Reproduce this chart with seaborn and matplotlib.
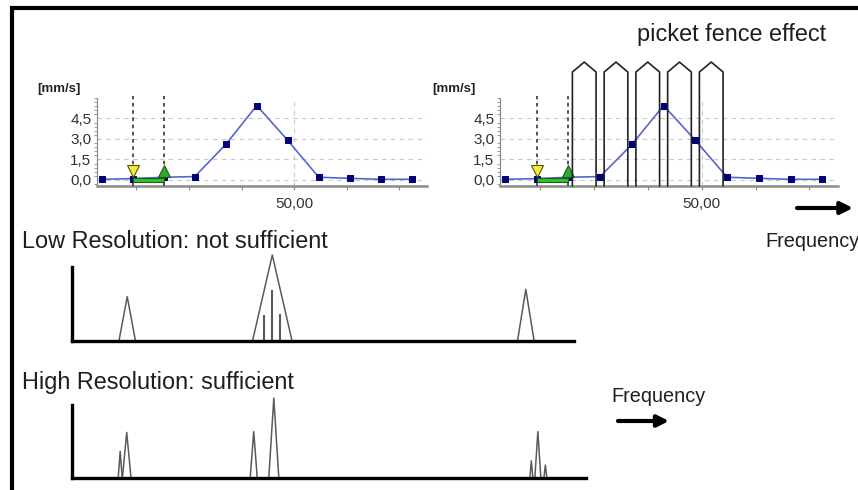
import matplotlib
matplotlib.use("Agg")
import matplotlib.pyplot as plt
from matplotlib.patches import Rectangle
from matplotlib.ticker import FixedLocator, MultipleLocator
import numpy as np
import pandas as pd
import seaborn as sns

# spectrum bins of the two small analyser plots (Hz, mm/s)
bin_freqs = [13.4, 19.3, 25.2, 31.1, 37.0, 42.9, 48.8, 54.7, 60.6, 66.5, 72.4]
bin_amps = [0.05, 0.1, 0.2, 0.25, 2.6, 5.45, 2.9, 0.2, 0.12, 0.05, 0.05]
y_ticks = [0.0, 1.5, 3.0, 4.5]
y_ticklabels = ["0,0", "1,5", "3,0", "4,5"]
x_major = [50.0]
x_major_labels = ["50,00"]
x_minor = [20, 30, 40, 60, 70]
cursor_idx = [1, 2]          # bins under the yellow / green cursors
picket_bins = [2, 3, 4, 5, 6]  # pickets sit between bin i and i+1

# sketch spectra, low resolution
low_centers = [11.0, 39.9, 90.4]
low_halfwidths = [1.65, 3.94, 1.66]
low_heights = [0.515, 1.0, 0.60]
low_lines_x = [38.2, 39.9, 41.5]
low_lines_h = [0.30, 0.59, 0.31]

# sketch spectra, high resolution
high_centers = [9.6, 10.9, 36.2, 40.2, 91.5, 92.8, 94.3]
high_halfwidths = [0.4, 0.86, 0.7, 1.0, 0.3, 0.6, 0.3]
high_heights = [0.31, 0.53, 0.54, 0.93, 0.2, 0.54, 0.15]

W, H = 858, 490
sns.set_theme(style="white")
plt.rcParams["font.family"] = ["Liberation Sans", "DejaVu Sans"]


def px_rect(l, t, r, b):
    return [l / W, 1 - b / H, (r - l) / W, (b - t) / H]


def peaks_frame(centers, halfwidths, heights):
    rows = []
    for i, (c, hw, h) in enumerate(zip(centers, halfwidths, heights)):
        for k, (x, y) in enumerate([(c - hw, 0), (c, h), (c + hw, 0)]):
            rows.append({"peak": i, "order": k, "f": x, "a": y})
    return pd.DataFrame(rows)


def analyser(ax, pickets=False):
    ymin, ymax = -0.44, 6.0
    ax.set_xlim(12.5, 75.3)
    ax.set_ylim(ymin, ymax)
    for s in ["top", "right"]:
        ax.spines[s].set_visible(False)
    ax.spines["left"].set_color("#8a8a8a")
    ax.spines["left"].set_linewidth(0.9)
    ax.spines["bottom"].set_color("#8a8a8a")
    ax.spines["bottom"].set_linewidth(1.8)
    ax.set_yticks(y_ticks)
    ax.set_yticklabels(y_ticklabels)
    ax.yaxis.set_minor_locator(MultipleLocator(0.3))
    ax.xaxis.set_major_locator(FixedLocator(x_major))
    ax.set_xticklabels(x_major_labels)
    ax.xaxis.set_minor_locator(FixedLocator(x_minor))
    ax.tick_params(axis="y", which="major", length=0, pad=4, labelsize=11, labelcolor="#333333")
    ax.tick_params(axis="y", which="minor", left=True, length=2, width=0.6, color="#8a8a8a")
    ax.tick_params(axis="x", which="both", bottom=True, length=3, width=0.8, color="#8a8a8a",
                   pad=5, labelsize=11, labelcolor="#333333")
    ax.grid(True, which="major", color="#c8c8c8", linestyle=(0, (4, 4)), linewidth=0.8)
    ax.set_facecolor("none")

    sns.lineplot(x=bin_freqs, y=bin_amps, ax=ax, color="#5566cc", linewidth=1.2,
                 marker="s", markersize=4.8, markerfacecolor="#00007a",
                 markeredgecolor="#00007a", zorder=4)
    # cursors
    c1, c2 = bin_freqs[cursor_idx[0]], bin_freqs[cursor_idx[1]]
    for c in (c1, c2):
        ax.axvline(c, ymin=0, ymax=1.02, color="#444444", linestyle=(0, (2, 2)),
                   linewidth=1.3, zorder=3, clip_on=False)
    ax.add_patch(Rectangle((c1, -0.17), c2 - c1, 0.34, facecolor="#2fc42f",
                           edgecolor="#1d5a1d", linewidth=0.8, zorder=5))
    ax.plot([c1], [0.66], marker="v", markersize=9, color="#f4ec3a",
            markeredgecolor="#555500", markeredgewidth=0.8, zorder=6)
    ax.plot([c2], [0.66], marker="^", markersize=9, color="#2faa2f",
            markeredgecolor="#1d5a1d", markeredgewidth=0.8, zorder=6)
    ax.set_xlabel("")
    ax.set_ylabel("")

    if pickets:
        half = 2.2
        shoulder, apex = 7.9, 8.63
        for i in picket_bins:
            c = (bin_freqs[i] + bin_freqs[i + 1]) / 2
            ax.plot([c - half, c - half, c, c + half, c + half],
                    [ymin, shoulder, apex, shoulder, ymin],
                    color="#222222", linewidth=1.2, clip_on=False, zorder=7)


fig = plt.figure(figsize=(W / 100, H / 100), dpi=100)

ax_l = fig.add_axes(px_rect(97, 98, 427, 186))
analyser(ax_l)
ax_r = fig.add_axes(px_rect(500, 98, 838, 186))
analyser(ax_r, pickets=True)


def sketch(ax, centers, halfwidths, heights, xmax, ymax, axis_top):
    df = peaks_frame(centers, halfwidths, heights)
    sns.lineplot(data=df, x="f", y="a", units="peak", estimator=None, sort=False,
                 color="#5a5a5a", linewidth=1.1, ax=ax)
    ax.set_xlim(0, xmax)
    ax.set_ylim(0, ymax)
    ax.set_xticks([])
    ax.set_yticks([])
    ax.set_xlabel("")
    ax.set_ylabel("")
    ax.set_facecolor("none")
    for s in ["top", "right"]:
        ax.spines[s].set_visible(False)
    for s in ["left", "bottom"]:
        ax.spines[s].set_color("black")
        ax.spines[s].set_linewidth(2.4)
        ax.spines[s].set_capstyle("projecting")
    ax.spines["left"].set_bounds(0, axis_top)


ax_lo = fig.add_axes(px_rect(72, 250, 574, 341))
sketch(ax_lo, low_centers, low_halfwidths, low_heights, 100, 91 / 86, 0.86)
ax_lo.vlines(low_lines_x, 0, low_lines_h, color="#5a5a5a", linewidth=1.5)

ax_hi = fig.add_axes(px_rect(72, 390, 586, 478))
sketch(ax_hi, high_centers, high_halfwidths, high_heights, 514 / 5.02, 88 / 86, 0.85)

# overlay in pixel coordinates for frame, texts and arrows
ov = fig.add_axes([0, 0, 1, 1], zorder=10)
ov.set_xlim(0, W)
ov.set_ylim(H, 0)
ov.axis("off")
ov.set_facecolor("none")
ov.plot([10, W], [8, 8], color="black", linewidth=3, solid_capstyle="butt")
ov.plot([11.5, 11.5], [6.5, H], color="black", linewidth=3, solid_capstyle="butt")

txt = "#1e1e1e"
ov.text(637, 41, "picket fence effect", fontsize=16.9, color=txt, va="baseline")
ov.text(22, 248, "Low Resolution: not sufficient", fontsize=16.9, color=txt, va="baseline")
ov.text(22, 389, "High Resolution: sufficient", fontsize=16.9, color=txt, va="baseline")
ov.text(765, 247, "Frequency", fontsize=14.3, color=txt, va="baseline")
ov.text(611, 402, "Frequency", fontsize=14.3, color=txt, va="baseline")
ov.text(37, 89, "[mm/s]", fontsize=9.5, fontweight="bold", color="#222222", va="center")
ov.text(432, 89, "[mm/s]", fontsize=9.5, fontweight="bold", color="#222222", va="center")

ov.annotate("", xy=(853, 208), xytext=(797, 208),
            arrowprops=dict(arrowstyle="-|>", lw=3, color="black",
                            mutation_scale=18, shrinkA=0, shrinkB=0))
ov.annotate("", xy=(669, 421), xytext=(618, 421),
            arrowprops=dict(arrowstyle="-|>", lw=3, color="black",
                            mutation_scale=17, shrinkA=0, shrinkB=0))

fig.savefig("out.png", dpi=100)
plt.close(fig)
